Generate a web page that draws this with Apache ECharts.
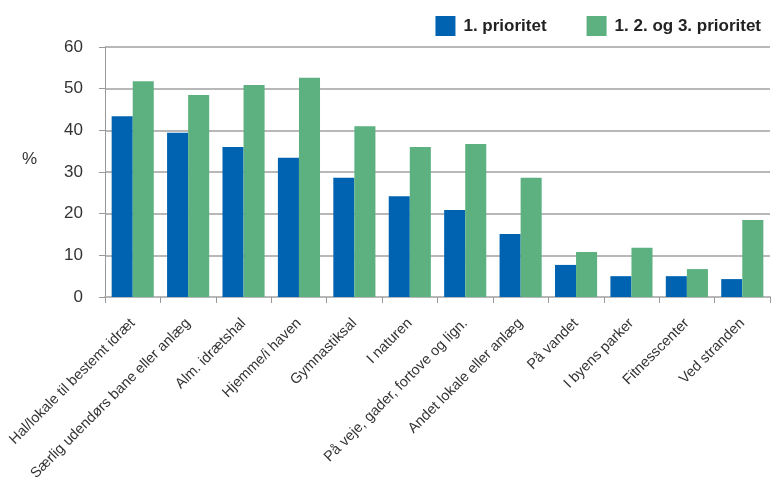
<!DOCTYPE html>
<html>
<head>
<meta charset="utf-8">
<script src="https://cdn.jsdelivr.net/npm/echarts@6/dist/echarts.min.js"></script>
<style>
  html, body { margin: 0; padding: 0; background: #fff; }
  #chart { width: 774px; height: 480px; }
</style>
</head>
<body>
<div id="chart"></div>
<script>
// Places where people do sport, share in percent
const categories = [
  'Hal/lokale til bestemt idræt',
  'Særlig udendørs bane eller anlæg',
  'Alm. idrætshal',
  'Hjemme/i haven',
  'Gymnastiksal',
  'I naturen',
  'På veje, gader, fortove og lign.',
  'Andet lokale eller anlæg',
  'På vandet',
  'I byens parker',
  'Fitnesscenter',
  'Ved stranden'
];
const firstPriority = [43.4, 39.4, 36.0, 33.4, 28.6, 24.2, 20.9, 15.1, 7.7, 5.0, 5.0, 4.3];
const topThreePriority = [51.8, 48.5, 50.9, 52.6, 41.0, 36.0, 36.7, 28.6, 10.8, 11.8, 6.7, 18.5];
const seriesNames = ['1. prioritet', '1. 2. og 3. prioritet'];
const yTicks = [0, 10, 20, 30, 40, 50, 60];

const font = 'Liberation Sans, Arial, Helvetica, sans-serif';
const chart = echarts.init(document.getElementById('chart'));
chart.setOption({
  animation: false,
  backgroundColor: '#ffffff',
  textStyle: { fontFamily: font },
  legend: {
    data: seriesNames,
    top: 11,
    right: 8,
    itemWidth: 20,
    itemHeight: 20,
    itemGap: 40,
    icon: 'rect',
    textStyle: { fontFamily: font, fontSize: 17, fontWeight: 'bold', color: '#222', padding: [0, 0, 0, 3] }
  },
  grid: { left: 105, right: 4, top: 47, bottom: 183, containLabel: false, outerBoundsMode: 'none' },
  graphic: [{
    type: 'text',
    left: 22,
    top: 151,
    style: { text: '%', font: '17px ' + font, fill: '#333' }
  }],
  xAxis: {
    type: 'category',
    data: categories,
    axisLine: { show: true, lineStyle: { color: '#b8b8b8', width: 2 } },
    axisTick: { show: true, length: 6, lineStyle: { color: '#999', width: 1 } },
    axisLabel: {
      rotate: 45,
      interval: 0,
      margin: 24,
      fontSize: 14.5,
      color: '#333',
      fontFamily: font
    }
  },
  yAxis: {
    type: 'value',
    min: yTicks[0],
    max: yTicks[yTicks.length - 1],
    interval: 10,
    axisLine: { show: true, lineStyle: { color: '#999', width: 1 } },
    axisTick: { show: true, length: 6, lineStyle: { color: '#999' } },
    axisLabel: { fontSize: 17, color: '#333', margin: 22, fontFamily: font },
    splitLine: { show: true, lineStyle: { color: '#b8b8b8', width: 2 } }
  },
  series: [
    {
      name: seriesNames[0],
      type: 'bar',
      data: firstPriority,
      barGap: '0%',
      barCategoryGap: '24%',
      itemStyle: { color: '#0063b1' }
    },
    {
      name: seriesNames[1],
      type: 'bar',
      data: topThreePriority,
      barGap: '0%',
      barCategoryGap: '24%',
      itemStyle: { color: '#5db180' }
    }
  ]
});
</script>
</body>
</html>
